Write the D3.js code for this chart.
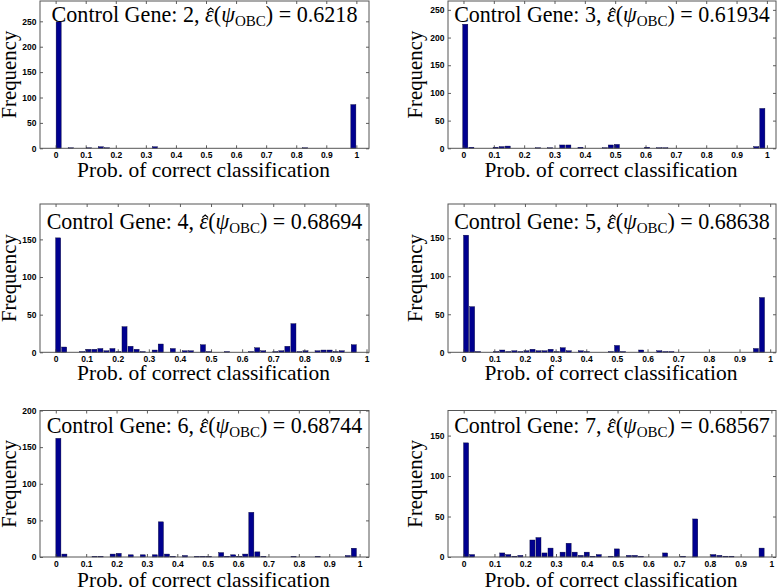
<!DOCTYPE html>
<html>
<head>
<meta charset="utf-8">
<script src="https://cdn.jsdelivr.net/npm/d3@7"></script>
<style>
  html, body { margin: 0; padding: 0; background: #fff; }
  svg { display: block; }
</style>
</head>
<body>
<svg id="chart" width="778" height="587"></svg>
<script>
// ---------------- data ----------------
const genes = [2, 3, 4, 5, 6, 7];
const errorValues = ["0.6218", "0.61934", "0.68694", "0.68638", "0.68744", "0.68567"];

const xTickValues = [0, 0.1, 0.2, 0.3, 0.4, 0.5, 0.6, 0.7, 0.8, 0.9, 1];
const xTickLabels = ["0", "0.1", "0.2", "0.3", "0.4", "0.5", "0.6", "0.7", "0.8", "0.9", "1"];

const yTicksGene2 = [0, 50, 100, 150, 200, 250];
const yTicksGene3 = [0, 50, 100, 150, 200, 250];
const yTicksGene4 = [0, 50, 100, 150];
const yTicksGene5 = [0, 50, 100, 150];
const yTicksGene6 = [0, 50, 100, 150, 200];
const yTicksGene7 = [0, 50, 100, 150];

// histogram counts (50 bins each)
const countsGene2 = [249,0,1,0,0,1,0,3,1,0, 0,0,0,0,0,0,3,0,0,0, 0,0,0,0,0,0,0,0,0,0, 0,0,0,0,0,0,0,0,0,0, 0,1,0,0,0,0,0,0,0,86];
const countsGene3 = [224,2,0,0,0,2,3,4,0,0, 0,0,1,0,1,0,6,6,0,2, 0,0,0,1,6,7,0,0,0,0, 2,0,1,1,0,0,0,0,0,0, 0,0,0,0,0,0,0,0,3,72];
const countsGene4 = [152,7,0,0,1,4,4,5,2,5, 1,34,8,4,1,0,3,11,0,5, 0,2,2,0,10,1,0,0,1,0, 0,0,1,6,2,0,1,2,8,38, 1,2,0,2,3,3,1,2,0,10];
const countsGene5 = [154,60,1,0,0,1,3,1,2,1, 2,4,2,2,4,1,6,2,0,2, 1,0,0,0,1,9,1,0,0,3, 0,0,2,1,1,0,0,0,0,0, 0,0,0,0,0,0,0,0,5,72];
const countsGene6 = [162,4,0,0,0,0,1,1,0,4, 5,0,3,0,3,0,3,48,4,1, 0,2,0,1,1,1,0,6,1,3, 1,4,61,7,1,0,0,0,0,1, 0,0,0,1,0,0,0,0,2,12];
const countsGene7 = [141,3,0,0,0,0,5,3,1,2, 0,21,24,5,11,0,6,17,6,2, 6,1,3,0,1,10,0,2,2,1, 0,0,0,5,0,0,1,0,47,0, 0,3,2,1,1,0,0,0,0,11];

// first bin centre and bin width per histogram
const binStart = [0.01, 0.006, 0.0084, 0.008, 0.0085, 0.0078];
const binWidth = [0.02, 0.01998, 0.0194, 0.0197, 0.01985, 0.0196];

// axis limits
const xMin = [-0.052, -0.051, -0.050, -0.051, -0.052, -0.051];
const xMax = [1.042, 1.030, 1.008, 1.019, 1.031, 1.015];
const yMax = [290, 266, 197, 195, 200, 181];

// ---------------- layout ----------------
const counts = [countsGene2, countsGene3, countsGene4, countsGene5, countsGene6, countsGene7];
const yTicks = [yTicksGene2, yTicksGene3, yTicksGene4, yTicksGene5, yTicksGene6, yTicksGene7];

const colX = [[40, 369], [448, 776]];
const rowY = [[1, 148.3], [204, 352.3], [410.5, 557]];
const titleBase = [21.5, 228.5, 432.5];
const xlabBase = [176.5, 380, 586.5];
const ylabX = [15.5, 422];

const svg = d3.select("#chart");
const serif = "'Liberation Serif', 'DejaVu Serif', serif";
const sans = "'Liberation Sans', Arial, Helvetica, sans-serif";

function fitText(sel, target) {
  const w = sel.node().getBBox().width;
  const fs = parseFloat(sel.attr("font-size"));
  sel.attr("font-size", fs * target / w);
}

genes.forEach((g, k) => {
  const col = k % 2, row = Math.floor(k / 2);
  const [x0, x1] = colX[col];
  const [y0, y1] = rowY[row];
  const x = d3.scaleLinear().domain([xMin[k], xMax[k]]).range([x0, x1]);
  const y = d3.scaleLinear().domain([0, yMax[k]]).range([y1, y0]);
  const gPanel = svg.append("g");

  // bars
  const bins = counts[k].map((c, i) => ({ c: c, center: binStart[k] + i * binWidth[k] }));
  const bw = (x(binWidth[k]) - x(0)) * 0.84;
  gPanel.selectAll("rect.bar").data(bins.filter(d => d.c > 0)).join("rect")
    .attr("class", "bar")
    .attr("x", d => x(d.center) - bw / 2)
    .attr("width", bw)
    .attr("y", d => y(d.c))
    .attr("height", d => y(0) - y(d.c))
    .attr("fill", "#00008f")
    .attr("stroke", "#000033")
    .attr("stroke-width", 0.4);

  // axes (inward ticks)
  const axB = d3.axisBottom(x).tickValues(xTickValues).tickFormat((d, i) => xTickLabels[i])
    .tickSizeInner(-3).tickSizeOuter(0).tickPadding(3.5);
  const gb = gPanel.append("g").attr("transform", `translate(0,${y1})`).call(axB);
  const axT = d3.axisTop(x).tickValues(xTickValues).tickFormat("").tickSizeInner(-3).tickSizeOuter(0);
  const gt = gPanel.append("g").attr("transform", `translate(0,${y0})`).call(axT);
  const axL = d3.axisLeft(y).tickValues(yTicks[k]).tickSizeInner(-3).tickSizeOuter(0).tickPadding(3.5);
  const gl = gPanel.append("g").attr("transform", `translate(${x0},0)`).call(axL);
  const axR = d3.axisRight(y).tickValues(yTicks[k]).tickFormat("").tickSizeInner(-3).tickSizeOuter(0);
  const gr = gPanel.append("g").attr("transform", `translate(${x1},0)`).call(axR);
  [gb, gt, gl, gr].forEach(a => {
    a.select(".domain").remove();
    a.selectAll(".tick line").attr("stroke", "#333").attr("stroke-width", 0.8);
    a.selectAll(".tick text").attr("font-family", sans).attr("font-weight", "bold")
      .attr("font-size", 8.5).attr("fill", "#000");
  });

  // frame
  gPanel.append("rect").attr("x", x0).attr("y", y0).attr("width", x1 - x0).attr("height", y1 - y0)
    .attr("fill", "none").attr("stroke", "#555").attr("stroke-width", 1);

  // title
  const cx = (x0 + x1) / 2;
  const prefix = `Control Gene: ${g}, `;
  const t = gPanel.append("text").attr("x", cx).attr("y", titleBase[row])
    .attr("text-anchor", "middle").attr("font-family", serif).attr("font-size", 22).attr("fill", "#000");
  t.append("tspan").text(prefix);
  t.append("tspan").attr("font-style", "italic").text("\u03B5");
  t.append("tspan").text("(");
  t.append("tspan").attr("font-style", "italic").text("\u03C8");
  t.append("tspan").attr("font-size", "0.68em").attr("dy", 4).text("OBC");
  t.append("tspan").attr("dy", -4).text(")");
  t.append("tspan").text(` = ${errorValues[k]}`);
  fitText(t, errorValues[k].length === 6 ? 306 : 316);

  // hat over epsilon
  const fs = parseFloat(t.attr("font-size"));
  const ext = t.node().getExtentOfChar(prefix.length);
  const hx = ext.x + ext.width / 2 + fs * 0.06;
  const hy = titleBase[row] - fs * 0.5;
  const hw = fs * 0.13, hh = fs * 0.11;
  gPanel.append("path")
    .attr("d", `M${hx - hw},${hy} L${hx},${hy - hh} L${hx + hw},${hy}`)
    .attr("fill", "none").attr("stroke", "#000").attr("stroke-width", 1.1);

  // x label
  const xl = gPanel.append("text").attr("x", cx - 1).attr("y", xlabBase[row])
    .attr("text-anchor", "middle").attr("font-family", serif).attr("font-size", 20).attr("fill", "#000")
    .text("Prob. of correct classification");
  fitText(xl, 253);

  // y label
  const yl = gPanel.append("text")
    .attr("transform", `translate(${ylabX[col]},${(y0 + y1) / 2}) rotate(-90)`)
    .attr("text-anchor", "middle").attr("font-family", serif).attr("font-size", 20).attr("fill", "#000")
    .text("Frequency");
  fitText(yl, 88);
});
</script>
</body>
</html>
